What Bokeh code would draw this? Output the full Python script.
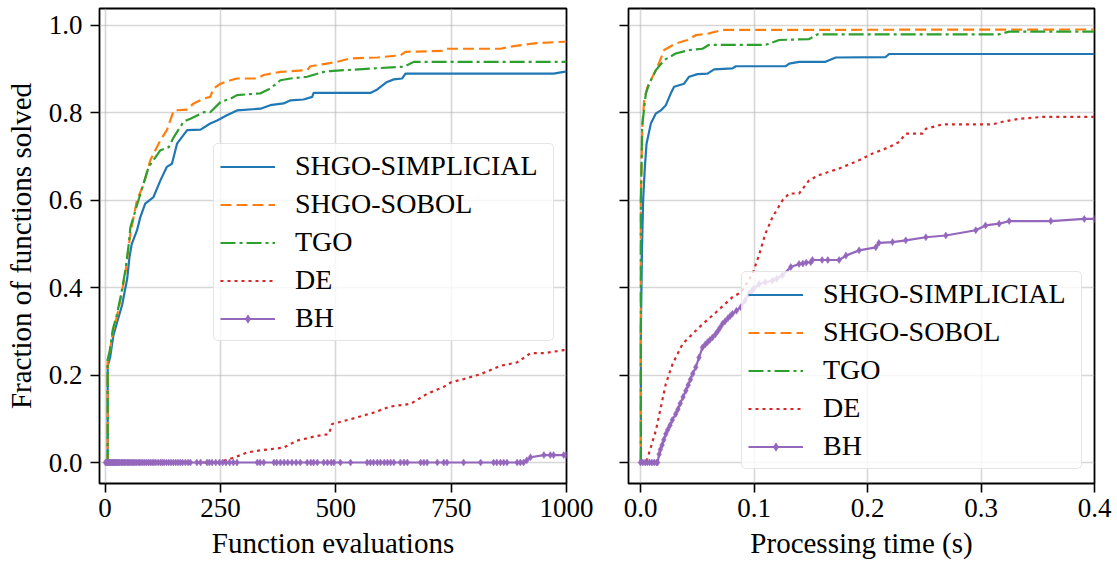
from bokeh.plotting import figure
from bokeh.models import Range1d, FixedTicker, PrintfTickFormatter, Legend, LegendItem
from bokeh.layouts import row
from bokeh.embed import file_html
from bokeh.resources import INLINE

FONT = "Liberation Serif"
FONTQ = "'Liberation Serif'"
FS_TICK = "27px"
FS_AXIS = "29px"
FS_LEG = "28px"

labels = ["SHGO-SIMPLICIAL", "SHGO-SOBOL", "TGO", "DE", "BH"]
colors = ["#1f77b4", "#ff7f0e", "#2ca02c", "#d62728", "#9467bd"]
dashes = ["solid", "11 5", "15 4 3 4", "3 4", "solid"]

ev_ticks = [0, 250, 500, 750, 1000]
t_ticks = [0.0, 0.1, 0.2, 0.3, 0.4]
y_ticks = [0.0, 0.2, 0.4, 0.6, 0.8, 1.0]

# ---- Left panel: function evaluations ----
ev_simp_x = [0, 5.7, 5.7, 11, 18, 26, 37, 48, 53, 58, 69, 76.5, 87, 105, 120, 134, 145, 156, 178, 207, 228,
             243, 264, 286, 337, 358, 387, 402, 430, 449, 452, 575, 590, 611, 626, 644, 651, 972, 994, 1000]
ev_simp_y = [0, 0, 0.22, 0.24, 0.29, 0.32, 0.36, 0.42, 0.47, 0.50, 0.53, 0.561, 0.592, 0.607, 0.645, 0.676,
             0.683, 0.729, 0.760, 0.761, 0.775, 0.782, 0.794, 0.805, 0.809, 0.817, 0.821, 0.828, 0.830, 0.836,
             0.845, 0.845, 0.853, 0.870, 0.876, 0.878, 0.889, 0.889, 0.893, 0.894]

ev_sobol_x = [0, 5.6, 5.6, 10, 17, 25, 35, 45, 52, 55, 69, 84, 98, 120, 134, 149, 178, 192, 214, 228, 235,
              250, 272, 286, 330, 344, 380, 438, 445, 474, 503, 532, 590, 640, 651, 734, 741, 857, 886, 936,
              994, 1000]
ev_sobol_y = [0, 0, 0.23, 0.25, 0.30, 0.33, 0.38, 0.44, 0.50, 0.523, 0.599, 0.637, 0.691, 0.737, 0.760,
              0.805, 0.807, 0.821, 0.832, 0.836, 0.855, 0.866, 0.874, 0.878, 0.878, 0.886, 0.893, 0.897,
              0.906, 0.911, 0.916, 0.924, 0.926, 0.931, 0.939, 0.941, 0.946, 0.946, 0.952, 0.959, 0.962, 0.962]

ev_tgo_x = [0, 5.6, 5.6, 10, 17, 25, 35, 45, 52, 55, 76.5, 94.5, 120, 138, 149, 170, 185, 214, 228, 250,
            272, 286, 337, 358, 380, 402, 438, 474, 488, 582, 648, 669, 1000]
ev_tgo_y = [0, 0, 0.235, 0.255, 0.305, 0.335, 0.385, 0.445, 0.505, 0.538, 0.614, 0.676, 0.714, 0.721,
            0.744, 0.779, 0.786, 0.801, 0.801, 0.824, 0.832, 0.840, 0.844, 0.855, 0.874, 0.878, 0.882,
            0.893, 0.895, 0.901, 0.905, 0.916, 0.916]

ev_de_x = [0, 250, 257, 279, 308, 337, 387, 416, 460, 485, 492, 532, 582, 618, 662, 698, 734, 749, 778,
           814, 857, 893, 922, 951, 994, 1000]
ev_de_y = [0, 0, 0.004, 0.011, 0.023, 0.028, 0.034, 0.050, 0.061, 0.065, 0.088, 0.099, 0.114, 0.128,
           0.134, 0.157, 0.173, 0.183, 0.191, 0.202, 0.221, 0.229, 0.250, 0.250, 0.257, 0.257]

ev_bh_x = [1, 3, 5, 6, 8, 10, 11, 13, 15, 17, 18, 20, 22, 24, 26, 28, 30, 32, 35, 37, 40, 42, 45, 48, 50,
           53, 56, 59, 62, 65, 68, 72, 75, 78, 82, 86, 90, 94, 98, 102, 106, 110, 115, 120, 124, 128, 133,
           138, 143, 148, 153, 158, 163, 168, 174, 180, 185, 199, 207, 221, 226, 232, 240, 248, 255, 262,
           270, 278, 286, 330, 336, 344, 366, 372, 380, 388, 396, 405, 414, 423, 438, 446, 452, 460, 474,
           482, 490, 496, 510, 532, 568, 575, 582, 590, 597, 605, 612, 619, 626, 640, 648, 655, 684, 691,
           698, 720, 734, 741, 777, 814, 842, 849, 857, 864, 871, 893, 900, 907, 914, 922, 951, 965, 972,
           994, 1000]
ev_bh_y = [0] * 118 + [0.005, 0.012, 0.017, 0.017, 0.017, 0.017, 0.017, 0.017]

# ---- Right panel: processing time ----
t_simp_x = [0, 0.0003, 0.0003, 0.0013, 0.0023, 0.0038, 0.0053, 0.0091, 0.0135, 0.0179, 0.0223, 0.0267,
            0.0296, 0.0384, 0.0428, 0.0502, 0.059, 0.0648, 0.081, 0.084, 0.128, 0.131, 0.1397, 0.163,
            0.172, 0.216, 0.219, 0.4]
t_simp_y = [0, 0, 0.30, 0.49, 0.60, 0.675, 0.729, 0.775, 0.798, 0.805, 0.817, 0.844, 0.859, 0.866, 0.882,
            0.888, 0.889, 0.899, 0.901, 0.906, 0.906, 0.912, 0.916, 0.916, 0.926, 0.927, 0.934, 0.934]

t_sobol_x = [0, 0.0003, 0.0003, 0.0015, 0.0032, 0.0062, 0.0106, 0.015, 0.0208, 0.031, 0.0414, 0.0487,
             0.0604, 0.0722, 0.4]
t_sobol_y = [0, 0, 0.60, 0.767, 0.828, 0.859, 0.882, 0.905, 0.943, 0.958, 0.966, 0.977, 0.981, 0.989, 0.990]

t_tgo_x = [0, 0.0003, 0.0003, 0.0015, 0.0047, 0.0076, 0.0135, 0.0208, 0.031, 0.0428, 0.0546, 0.0604,
           0.1104, 0.1221, 0.1485, 0.156, 0.316, 0.3247, 0.4]
t_tgo_y = [0, 0, 0.60, 0.77, 0.844, 0.866, 0.897, 0.920, 0.935, 0.943, 0.946, 0.955, 0.955, 0.966, 0.968,
           0.979, 0.979, 0.985, 0.985]

t_de_x = [0, 0.005, 0.0135, 0.0223, 0.0282, 0.037, 0.0516, 0.0663, 0.081, 0.0884, 0.0987, 0.1045, 0.110,
          0.1163, 0.125, 0.1309, 0.1397, 0.1485, 0.157, 0.175, 0.1926, 0.204, 0.219, 0.228, 0.2337, 0.2485,
          0.2514, 0.266, 0.310, 0.319, 0.3336, 0.354, 0.4]
t_de_y = [0, 0, 0.073, 0.180, 0.225, 0.271, 0.309, 0.343, 0.378, 0.389, 0.431, 0.475, 0.523, 0.561, 0.599,
          0.615, 0.615, 0.645, 0.657, 0.672, 0.691, 0.706, 0.721, 0.733, 0.752, 0.752, 0.763, 0.773, 0.773,
          0.779, 0.786, 0.790, 0.790]

t_bh_x = [0, 0.002, 0.004, 0.006, 0.008, 0.010, 0.012, 0.014, 0.015, 0.0164, 0.0175, 0.019, 0.0205,
          0.0223, 0.024, 0.026, 0.028, 0.031, 0.033, 0.035, 0.0375, 0.0399, 0.042, 0.044, 0.046, 0.0487,
          0.0515, 0.0546, 0.057, 0.059, 0.061, 0.0634, 0.066, 0.068, 0.070, 0.0722, 0.0745, 0.077, 0.079,
          0.081, 0.0845, 0.0884, 0.092, 0.0957, 0.098, 0.1, 0.1045, 0.11, 0.1163, 0.12, 0.125, 0.1324,
          0.1397, 0.143, 0.146, 0.150, 0.1515, 0.16, 0.165, 0.175, 0.181, 0.1926, 0.2073, 0.210, 0.222,
          0.2337, 0.2514, 0.269, 0.2954, 0.304, 0.316, 0.3248, 0.3615, 0.391, 0.4]
t_bh_y = [0, 0, 0, 0, 0, 0, 0, 0, 0, 0.019, 0.03, 0.04, 0.052, 0.065, 0.075, 0.085, 0.097, 0.111, 0.122,
          0.135, 0.15, 0.164, 0.177, 0.19, 0.203, 0.218, 0.24, 0.263, 0.27, 0.275, 0.28, 0.286, 0.293, 0.30,
          0.308, 0.317, 0.323, 0.33, 0.335, 0.340, 0.347, 0.355, 0.37, 0.386, 0.392, 0.398, 0.408, 0.412,
          0.416, 0.42, 0.428, 0.447, 0.454, 0.455, 0.457, 0.458, 0.463, 0.463, 0.463, 0.463, 0.473, 0.485,
          0.492, 0.502, 0.504, 0.508, 0.515, 0.519, 0.531, 0.542, 0.546, 0.552, 0.552, 0.557, 0.557]

yr = Range1d(-0.048, 1.038)


def make_fig(xr, width, mbl, mbr):
    p = figure(width=width, height=565, x_range=xr, y_range=yr, output_backend="svg",
               toolbar_location=None, min_border_left=mbl, min_border_right=mbr,
               min_border_top=8, min_border_bottom=82)
    p.background_fill_color = "white"
    p.border_fill_color = "white"
    p.outline_line_color = "black"
    p.outline_line_width = 1.8
    p.grid.grid_line_color = "#b0b0b0"
    p.grid.grid_line_alpha = 0.5
    p.grid.grid_line_width = 1.6
    for ax in (p.xaxis[0], p.yaxis[0]):
        ax.axis_line_color = None
        ax.major_tick_out = 9
        ax.major_tick_in = 0
        ax.major_tick_line_width = 1.6
        ax.major_tick_line_color = "black"
        ax.minor_tick_line_color = None
        ax.major_label_text_font = FONTQ
        ax.major_label_text_font_size = FS_TICK
        ax.major_label_text_color = "black"
        ax.axis_label_text_font = FONT
        ax.axis_label_text_font_size = FS_AXIS
        ax.axis_label_text_font_style = "normal"
        ax.axis_label_text_color = "black"
    p.xaxis.major_label_standoff = 6
    p.yaxis.major_label_standoff = 8
    p.xaxis.axis_label_standoff = 7
    p.yaxis.axis_label_standoff = 9
    yt = FixedTicker(ticks=y_ticks)
    p.yaxis.ticker = yt
    p.ygrid.ticker = yt
    p.yaxis.formatter = PrintfTickFormatter(format="%.1f")
    return p


def add_series(p, series, bh_marker_size):
    items = []
    for i, (xs, ys) in enumerate(series):
        r = p.line(xs, ys, line_color=colors[i], line_width=2.2, line_dash=dashes[i])
        rs = [r]
        if labels[i] == "BH":
            m = p.scatter(xs, ys, marker="diamond", size=bh_marker_size, fill_color=colors[i],
                          line_color=colors[i], line_width=0.5)
            rs.append(m)
        items.append(LegendItem(label=labels[i], renderers=rs))
    return items


def style_legend(items, loc):
    lg = Legend(items=items, location=loc)
    lg.label_text_font = FONTQ
    lg.label_text_font_size = FS_LEG
    lg.label_text_color = "black"
    lg.glyph_width = 55
    lg.glyph_height = 21
    lg.label_height = 21
    lg.label_width = 252
    lg.label_standoff = 20
    lg.spacing = 6
    lg.padding = 6
    lg.margin = 0
    lg.border_line_color = "#cccccc"
    lg.border_line_width = 1.5
    lg.background_fill_color = "white"
    lg.background_fill_alpha = 0.8
    if "border_radius" in lg.properties():
        lg.border_radius = 5
    return lg


# Left figure
p1 = make_fig(Range1d(-12, 1000), 596, 99, 30)
xt1 = FixedTicker(ticks=ev_ticks)
p1.xaxis.ticker = xt1
p1.xgrid.ticker = xt1
p1.xaxis.axis_label = "Function evaluations"
p1.yaxis.axis_label = "Fraction of functions solved"
items1 = add_series(p1, [(ev_simp_x, ev_simp_y), (ev_sobol_x, ev_sobol_y), (ev_tgo_x, ev_tgo_y),
                         (ev_de_x, ev_de_y), (ev_bh_x, ev_bh_y)], 7)
p1.add_layout(style_legend(items1, (114, 142)), "center")

# Right figure
p2 = make_fig(Range1d(-0.0106, 0.4), 521, 32, 23)
xt2 = FixedTicker(ticks=t_ticks)
p2.xaxis.ticker = xt2
p2.xgrid.ticker = xt2
p2.xaxis.formatter = PrintfTickFormatter(format="%.1f")
p2.xaxis.axis_label = "Processing time (s)"
p2.yaxis.major_label_overrides = {t: "" for t in y_ticks}
items2 = add_series(p2, [(t_simp_x, t_simp_y), (t_sobol_x, t_sobol_y), (t_tgo_x, t_tgo_y),
                         (t_de_x, t_de_y), (t_bh_x, t_bh_y)], 7)
p2.add_layout(style_legend(items2, (113, 14)), "center")

layout = row(p1, p2)
open("out.html", "w").write(file_html(layout, INLINE))
